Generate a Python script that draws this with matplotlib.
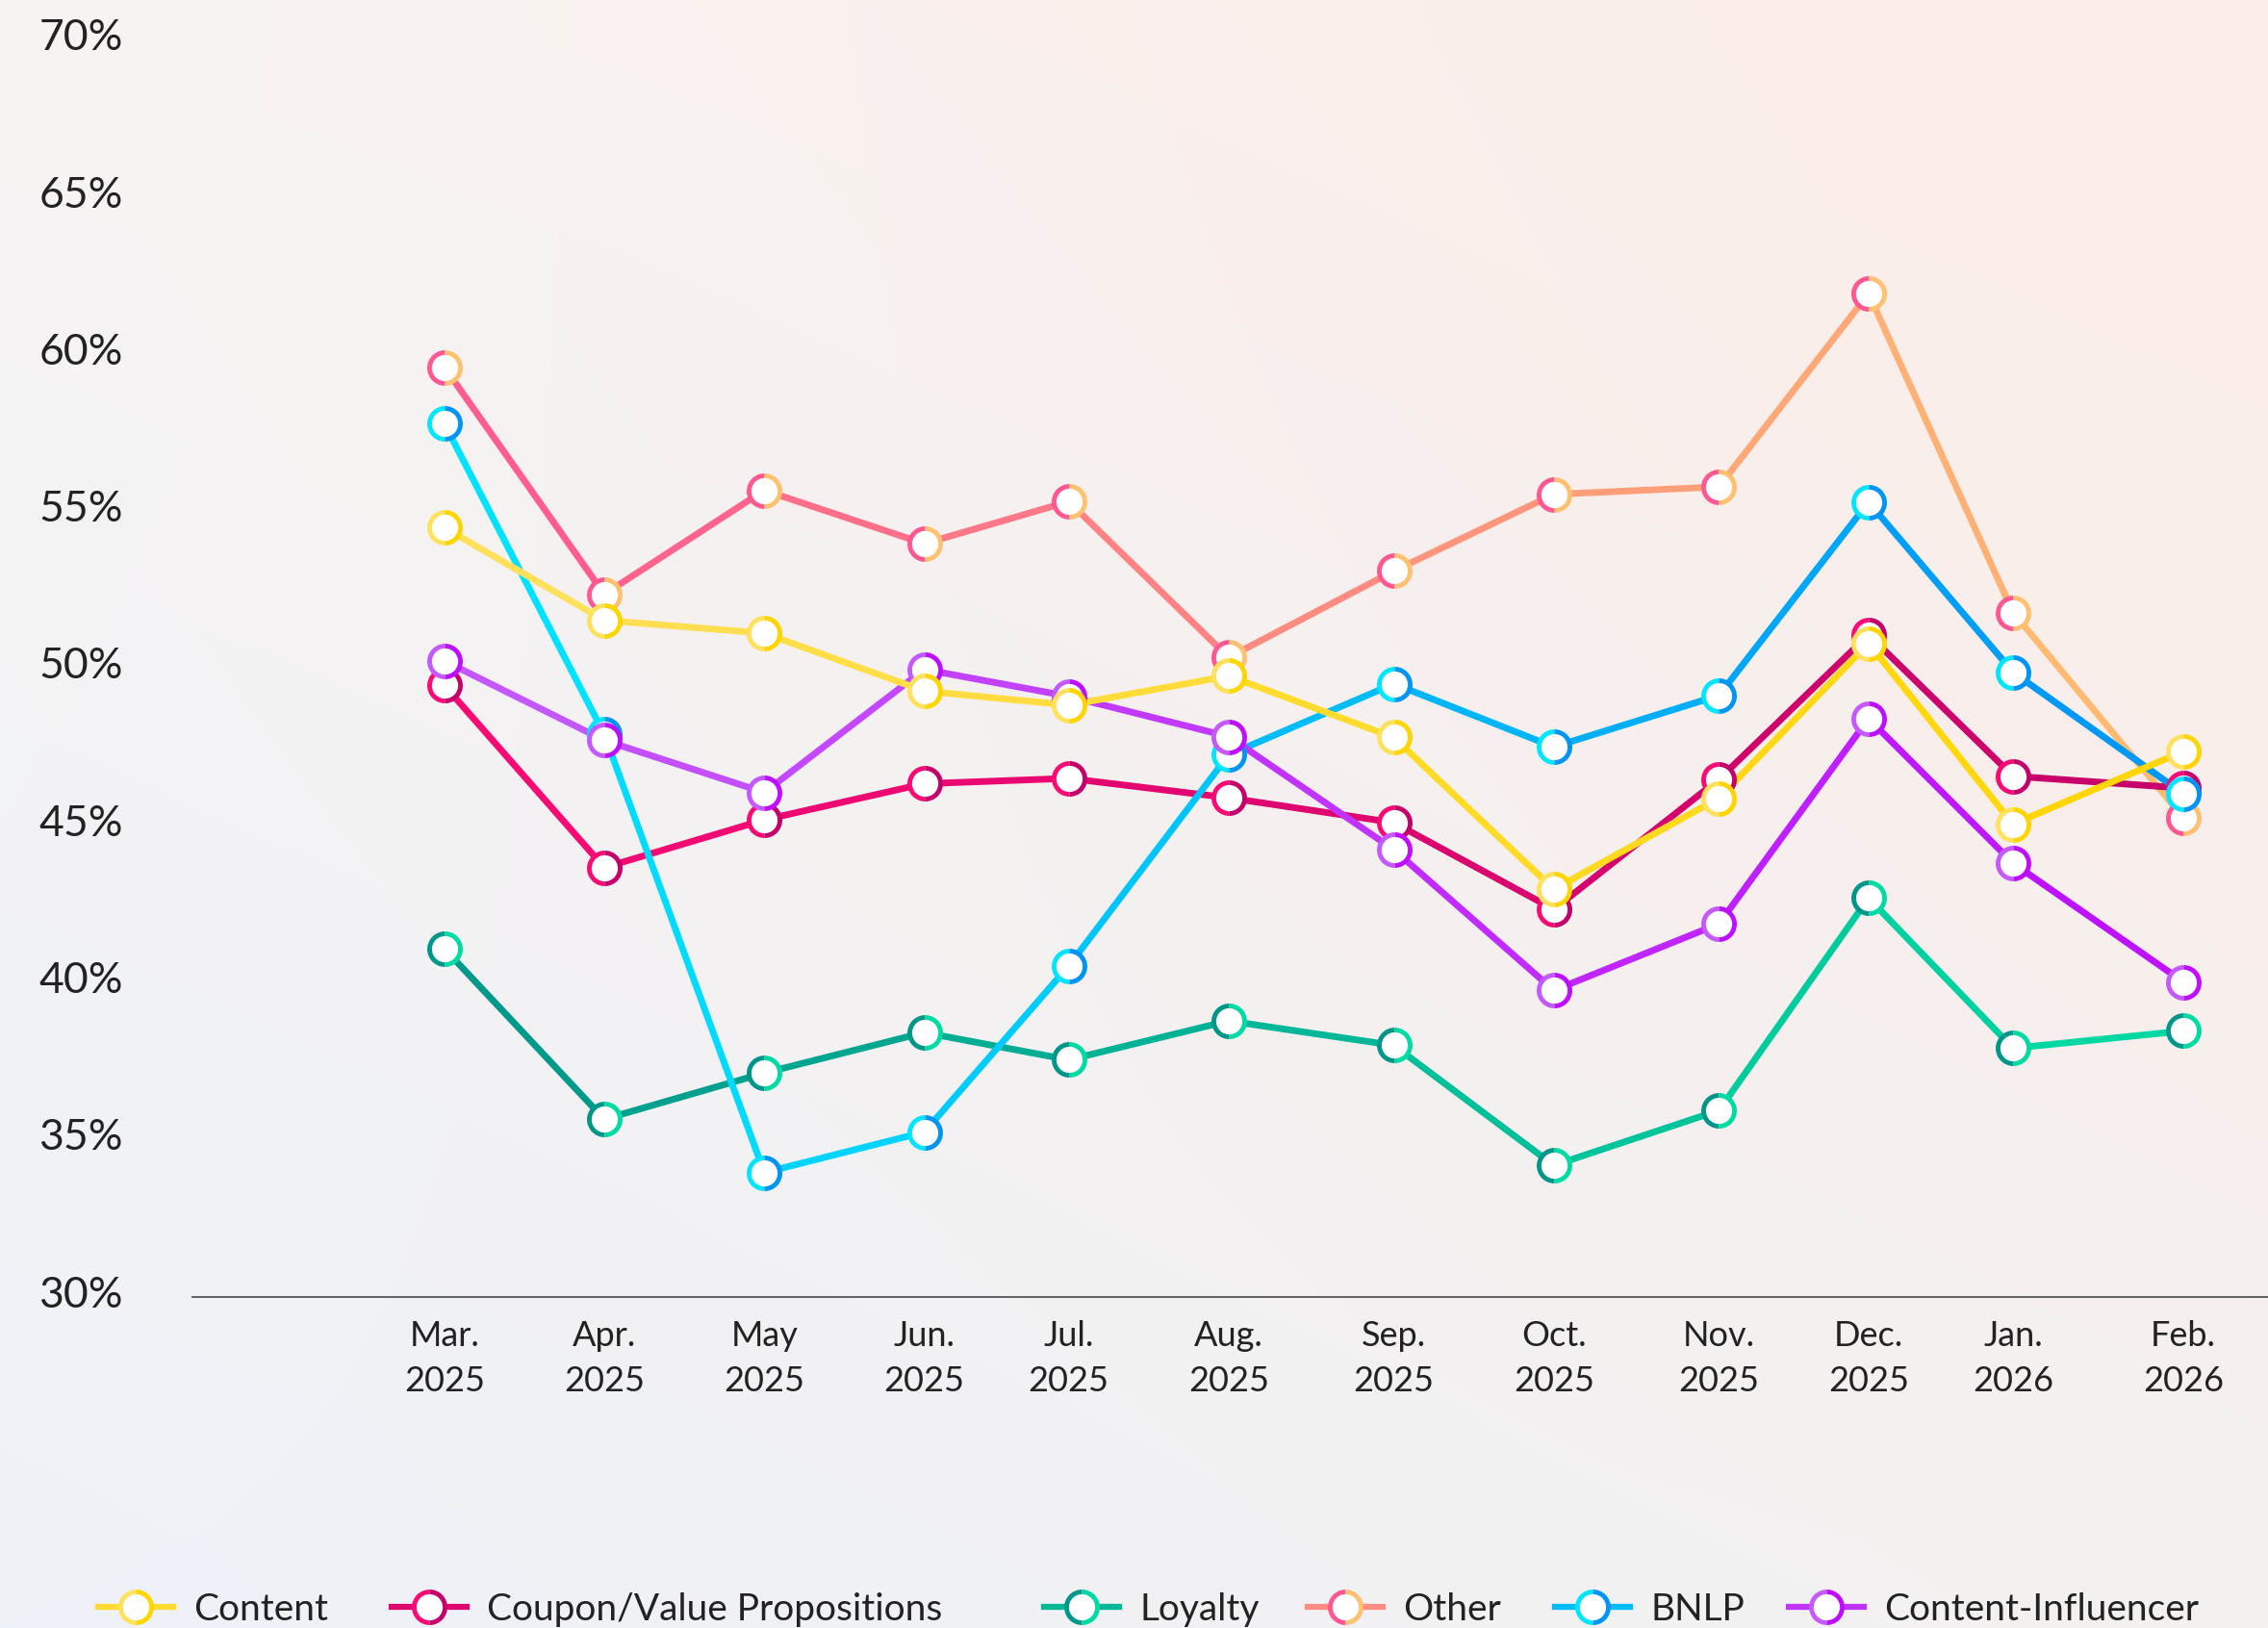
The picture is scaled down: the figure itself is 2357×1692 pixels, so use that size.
"""
Channel share by month: gradient line chart with ring markers.
"""
import matplotlib
matplotlib.use("Agg")
import matplotlib.pyplot as plt
import matplotlib.dates as mdates
import matplotlib.transforms as mtransforms
import numpy as np
from matplotlib.collections import LineCollection
from matplotlib.colors import to_rgb
from matplotlib.legend_handler import HandlerTuple
from matplotlib.lines import Line2D


DATES = ["2025-03-01", "2025-04-01", "2025-05-02", "2025-06-02", "2025-06-30", "2025-07-31",
         "2025-09-01", "2025-10-02", "2025-11-03", "2025-12-02", "2025-12-30", "2026-02-01"]
MONTH_LABELS = ["Mar.\n2025", "Apr.\n2025", "May\n2025", "Jun.\n2025", "Jul.\n2025", "Aug.\n2025",
                "Sep.\n2025", "Oct.\n2025", "Nov.\n2025", "Dec.\n2025", "Jan.\n2026", "Feb.\n2026"]

SERIES_NAMES = ["Content", "Coupon/Value Propositions", "Loyalty", "Other", "BNLP", "Content-Influencer"]

CONTENT = [54.49, 51.54, 51.13, 49.29, 48.84, 49.77, 47.81, 42.98, 45.88, 50.81, 45.05, 47.37]
COUPON = [49.47, 43.67, 45.19, 46.34, 46.51, 45.89, 45.10, 42.34, 46.48, 51.08, 46.58, 46.20]
LOYALTY = [41.09, 35.66, 37.13, 38.42, 37.55, 38.79, 38.01, 34.19, 35.94, 42.70, 37.92, 38.47]
OTHER = [59.60, 52.37, 55.68, 53.98, 55.32, 50.36, 53.11, 55.55, 55.79, 61.94, 51.79, 45.26]
BNLP = [57.80, 47.91, 33.96, 35.25, 40.54, 47.26, 49.52, 47.51, 49.15, 55.30, 49.89, 46.02]
INFLUENCER = [50.25, 47.72, 46.06, 49.98, 49.12, 47.84, 44.24, 39.76, 41.88, 48.41, 43.81, 40.03]

Y_TICKS = [30, 35, 40, 45, 50, 55, 60, 65, 70]

# (line start, line end) gradient colours, left -> right
SERIES_COLORS = {
    "Content": ("#FFE15E", "#FFD500"),
    "Coupon/Value Propositions": ("#FA0A74", "#C4006A"),
    "Loyalty": ("#00968A", "#00DBA4"),
    "Other": ("#FF5791", "#FFC070"),
    "BNLP": ("#00E6FF", "#0094F5"),
    "Content-Influencer": ("#C459FF", "#BE0DFF"),
}
DRAW_ORDER = ["Other", "Loyalty", "Coupon/Value Propositions", "BNLP", "Content-Influencer", "Content"]

# left edge of each legend entry, figure fraction
LEGEND_X = [0.0434, 0.1728, 0.4605, 0.5765, 0.6856, 0.7889]

TEXT_COLOR = "#222222"
plt.rcParams["font.family"] = ["Lato", "DejaVu Sans"]


def blend(c0, c1, t):
    a, b = np.array(to_rgb(c0)), np.array(to_rgb(c1))
    return tuple(a + (b - a) * t)


def draw_background(fig):
    bg = fig.add_axes([0, 0, 1, 1], zorder=-10)
    bg.axis("off")
    tl, tr = np.array(to_rgb("#F7F4F3")), np.array(to_rgb("#FCECE6"))
    bl, br = np.array(to_rgb("#EEF2F8")), np.array(to_rgb("#F4F1F0"))
    yy, xx = np.mgrid[0:1:200j, 0:1:200j]
    xx, yy = xx[..., None], yy[..., None]
    img = (1 - yy) * ((1 - xx) * tl + xx * tr) + yy * ((1 - xx) * bl + xx * br)
    bg.imshow(img, aspect="auto", extent=[0, 1, 0, 1], interpolation="bilinear")
    bg.set_xlim(0, 1)
    bg.set_ylim(0, 1)


def main():
    fig = plt.figure(figsize=(23.57, 16.92), dpi=100)
    draw_background(fig)
    ax = fig.add_axes([0.0849, 0.2033, 0.9151, 0.7719])
    ax.set_facecolor("none")

    x = mdates.date2num(np.array(DATES, dtype="datetime64[D]"))
    data = dict(zip(SERIES_NAMES, [CONTENT, COUPON, LOYALTY, OTHER, BNLP, INFLUENCER]))

    # lines first, coloured per segment along a left->right gradient
    for k, name in enumerate(DRAW_ORDER):
        vals = np.array(data[name])
        c0, c1 = SERIES_COLORS[name]
        pts = np.column_stack([x, vals])
        segs = np.stack([pts[:-1], pts[1:]], axis=1)
        t = ((x[:-1] + x[1:]) / 2 - x[0]) / (x[-1] - x[0])
        lc = LineCollection(segs, colors=[blend(c0, c1, tt) for tt in t], linewidths=5,
                            capstyle="round", joinstyle="round", zorder=2 + k)
        ax.add_collection(lc)

    # two-tone ring markers on top
    handles = {}
    for k, name in enumerate(DRAW_ORDER):
        vals = np.array(data[name])
        c0, c1 = SERIES_COLORS[name]
        ax.plot(x, vals, ls="none", marker="o", ms=26.6, fillstyle="left",
                markerfacecolor=c0, markerfacecoloralt=c1, mew=0, zorder=20 + 2 * k)
        ax.plot(x, vals, ls="none", marker="o", ms=19.6, markerfacecolor="white",
                mew=0, zorder=21 + 2 * k)

        h_line = Line2D([], [], color=blend(c0, c1, 0.5), lw=4.5)
        h_ring = Line2D([], [], ls="none", marker="o", ms=26.6, fillstyle="left",
                        markerfacecolor=c0, markerfacecoloralt=c1, mew=0)
        h_dot = Line2D([], [], ls="none", marker="o", ms=19.6, markerfacecolor="white", mew=0)
        handles[name] = (h_line, h_ring, h_dot)

    ax.set_xlim(x[0] - 48.8, x[0] + 353.4)
    ax.set_ylim(30, 70)
    ax.set_xticks(x)
    ax.set_xticklabels(MONTH_LABELS, fontsize=26, color=TEXT_COLOR, linespacing=1.52)
    ax.set_yticks(Y_TICKS)
    ax.set_yticklabels([f"{v}%" for v in Y_TICKS], fontsize=32, color=TEXT_COLOR)
    ax.tick_params(axis="x", length=0, pad=17)
    ax.tick_params(axis="y", length=0, pad=52)
    shift = mtransforms.ScaledTranslation(0, 0.06, fig.dpi_scale_trans)
    for lab in ax.get_yticklabels():
        lab.set_transform(lab.get_transform() + shift)
    for side in ("left", "top", "right"):
        ax.spines[side].set_visible(False)
    ax.spines["bottom"].set_color("#555555")
    ax.spines["bottom"].set_linewidth(1.3)

    for name, lx in zip(SERIES_NAMES, LEGEND_X):
        fig.legend([handles[name]], [name],
                   handler_map={tuple: HandlerTuple(ndivide=1, pad=0)},
                   loc="center left", bbox_to_anchor=(lx, 0.0115), frameon=False,
                   fontsize=28, handlelength=2.0, handletextpad=0.55,
                   labelcolor=TEXT_COLOR, borderaxespad=0, borderpad=0)

    fig.savefig("out.png", dpi=100)
    plt.close(fig)


if __name__ == "__main__":
    main()
